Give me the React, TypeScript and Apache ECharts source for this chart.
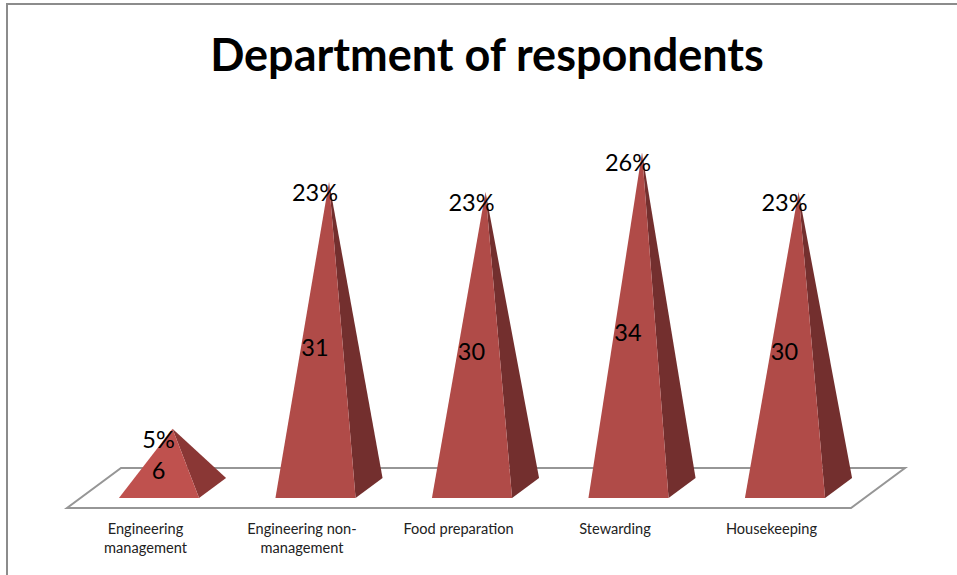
import { useEffect, useRef } from "react";
import * as echarts from "echarts";

const categories = [
  "Engineering\nmanagement",
  "Engineering non-\nmanagement",
  "Food preparation",
  "Stewarding",
  "Housekeeping",
];
const respondents = [6, 31, 30, 34, 30];
const shares = ["5%", "23%", "23%", "26%", "23%"];

const FONT = "Lato, 'Open Sans', sans-serif";
const BASE_RATIO = 0.512; // base width as a share of one category band
const DEPTH_X = 27;
const DEPTH_Y = -20;

// Square pyramid in oblique projection: the apex sits above the centre of the base.
function renderPyramid(params: any, api: any) {
  const index = api.value(0);
  const value = api.value(1);
  const [cx, apexY] = api.coord([index, value]);
  const [, floorY] = api.coord([index, 0]);
  const halfWidth = (api.size([1, 0])[0] * BASE_RATIO) / 2;
  const frontY = floorY - DEPTH_Y / 2;
  const left = cx - halfWidth;
  const right = cx + halfWidth;
  const apex = [cx + DEPTH_X / 2, apexY];
  const squat = value < 10;
  return {
    type: "group",
    children: [
      {
        type: "polygon",
        shape: { points: [[right, frontY], [right + DEPTH_X, frontY + DEPTH_Y], apex] },
        style: { fill: squat ? "#8a3735" : "#732f2e" },
      },
      {
        type: "polygon",
        shape: { points: [[left, frontY], [right, frontY], apex] },
        style: { fill: squat ? "#bf514e" : "#b04b48" },
      },
      {
        type: "text",
        style: {
          x: cx - 0.5,
          y: (floorY + apexY) / 2 + 11.5,
          text: String(value),
          fill: "#000",
          font: `400 23.5px ${FONT}`,
          align: "center",
          verticalAlign: "middle",
        },
      },
      {
        type: "text",
        style: {
          x: cx - 0.5,
          y: apexY + 10,
          text: shares[index],
          fill: "#000",
          font: `400 23.5px ${FONT}`,
          align: "center",
          verticalAlign: "middle",
        },
      },
    ],
  };
}

export default function App() {
  const ref = useRef<HTMLDivElement>(null);

  useEffect(() => {
    const chart = echarts.init(ref.current!, null, { renderer: "svg" });
    chart.setOption({
      animation: false,
      backgroundColor: "#fff",
      title: {
        text: "Department of respondents",
        left: 482,
        top: 26,
        textAlign: "center",
        textStyle: { fontFamily: FONT, fontSize: 45, fontWeight: 700, color: "#000" },
      },
      grid: { left: 80.75, right: 93.75, top: 93.2, bottom: 87 },
      xAxis: {
        type: "category",
        data: categories,
        axisLine: { show: false },
        axisTick: { show: false },
        axisLabel: {
          margin: 31,
          interval: 0,
          color: "#222",
          fontFamily: FONT,
          fontSize: 14.6,
          lineHeight: 19,
          padding: [0, 27, 0, 0],
        },
      },
      yAxis: { type: "value", min: 0, max: 40, show: false },
      graphic: [
        {
          type: "polygon",
          z: 0,
          shape: { points: [[67, 508], [851, 508], [905, 468], [121, 468]] },
          style: { fill: "#fff", stroke: "#969696", lineWidth: 2 },
        },
        {
          type: "polyline",
          z: 0,
          shape: { points: [[7, 575], [7, 4], [957, 4]] },
          style: { fill: "none", stroke: "#8c8c8c", lineWidth: 2 },
        },
      ],
      series: [
        {
          type: "custom",
          z: 5,
          clip: false,
          silent: true,
          renderItem: renderPyramid,
          encode: { x: 0, y: 1 },
          data: respondents.map((v, i) => [i, v]),
        },
      ],
    });
    return () => chart.dispose();
  }, []);

  return (
    <div
      ref={ref}
      style={{ position: "absolute", left: 0, top: 0, width: 957, height: 575 }}
    />
  );
}
